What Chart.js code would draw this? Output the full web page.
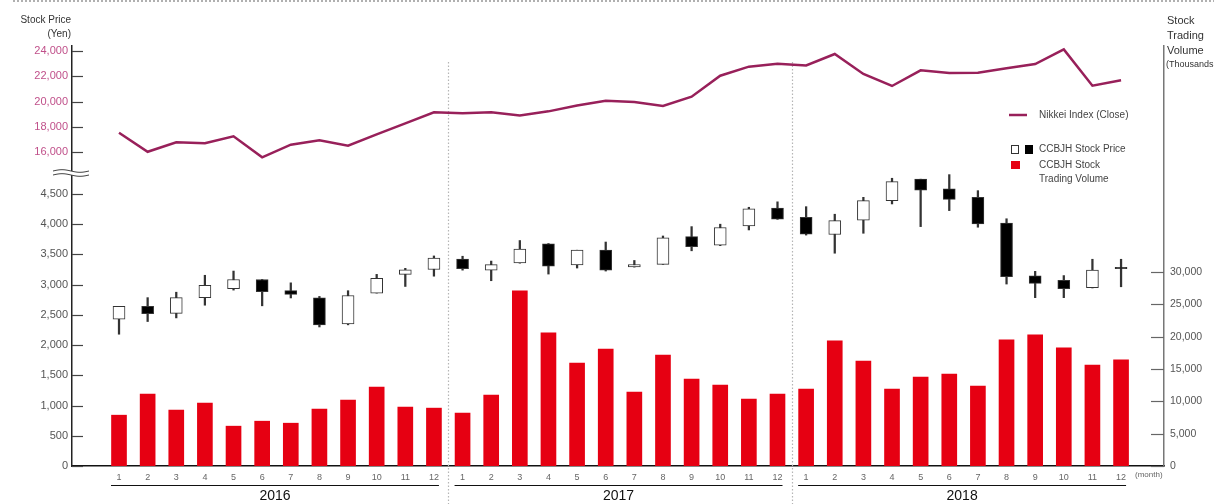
<!DOCTYPE html>
<html lang="en">
<head>
    <meta charset="UTF-8">
    <title>CCBJH Stock Price and Trading Volume</title>
    <script src="https://cdn.jsdelivr.net/npm/chart.js"></script>
    <style>
        body, html {
            margin: 0;
            padding: 0;
            background: #fff;
        }
        .chart-box {
            position: relative;
            width: 1214px;
            height: 504px;
        }
    </style>
</head>
<body>
<div class="chart-box">
    <canvas id="stockChart"></canvas>
</div>

<script>
    // months (2016-01 .. 2018-12)
    const years = ['2016', '2017', '2018'];
    const months = [1, 2, 3, 4, 5, 6, 7, 8, 9, 10, 11, 12];

    // Nikkei index close (yen)
    const nikkei = [
        17530, 16020, 16770, 16690, 17240, 15580, 16580, 16920, 16500, 17400, 18270, 19140,
        19060, 19140, 18900, 19220, 19690, 20060, 19960, 19640, 20380, 22040, 22760, 22990,
        22850, 23760, 22180, 21230, 22470, 22260, 22280, 22630, 22970, 24130, 21250, 21680
    ];

    // CCBJH monthly candles (yen)
    const priceOpen = [
        2430, 2640, 2525, 2785, 2935, 3085, 2900, 2780, 2350, 2860, 3170, 3250,
        3425, 3240, 3360, 3675, 3325, 3570, 3295, 3335, 3795, 3655, 3970, 4265,
        4115, 3830, 4065, 4390, 4745, 4585, 4445, 4020, 3145, 3070, 2950, 3285
    ];
    const priceClose = [
        2640, 2520, 2785, 2990, 3085, 2885, 2840, 2335, 2820, 3105, 3245, 3440,
        3265, 3330, 3590, 3305, 3570, 3240, 3330, 3775, 3630, 3945, 4255, 4085,
        3835, 4060, 4390, 4705, 4565, 4410, 4005, 3130, 3020, 2935, 3240, 3265
    ];
    const priceHigh = [
        2640, 2785, 2875, 3155, 3225, 3085, 3030, 2805, 2900, 3170, 3270, 3475,
        3470, 3390, 3730, 3680, 3570, 3705, 3400, 3805, 3960, 4000, 4280, 4370,
        4290, 4165, 4445, 4760, 4745, 4820, 4555, 4090, 3220, 3150, 3420, 3420
    ];
    const priceLow = [
        2180, 2390, 2450, 2660, 2910, 2650, 2780, 2300, 2335, 2860, 2970, 3140,
        3240, 3065, 3355, 3175, 3275, 3225, 3290, 3335, 3560, 3645, 3905, 4080,
        3820, 3520, 3850, 4335, 3960, 4225, 3950, 3010, 2785, 2785, 2945, 2965
    ];

    // trading volume (thousands of shares)
    const volume = [
        7860, 11120, 8640, 9720, 6160, 6930, 6620, 8790, 10190, 12210, 9100, 8950,
        8170, 10970, 27100, 20590, 15930, 18100, 11430, 17170, 13450, 12520, 10340, 11120,
        11900, 19340, 16240, 11900, 13760, 14220, 12360, 19500, 20270, 18260, 15620, 16400
    ];

    const nikkeiTicks = [16000, 18000, 20000, 22000, 24000];
    const priceTicks = [0, 500, 1000, 1500, 2000, 2500, 3000, 3500, 4000, 4500];
    const volumeTicks = [0, 5000, 10000, 15000, 20000, 25000, 30000];

    const idx = nikkei.map((v, i) => i);
    const FONT = "'Liberation Sans', Arial, sans-serif";
    const NIKKEI_COLOR = '#98205a';
    const RED = '#e60012';

    const toTicks = list => scale => { scale.ticks = list.map(v => ({ value: v })); };

    // ticks pointing into the plot, wavy axis break, separators, legend, titles
    const decor = {
        id: 'decor',
        beforeDatasetsDraw(chart) {
            const { ctx } = chart;
            const x = chart.scales.x;
            ctx.save();
            ctx.strokeStyle = '#b5b5b5';
            ctx.lineWidth = 1.2;
            ctx.setLineDash([1.5, 2]);
            [11.5, 23.5].forEach(v => {
                const px = Math.round(x.getPixelForValue(v)) + 0.5;
                ctx.beginPath();
                ctx.moveTo(px, 62);
                ctx.lineTo(px, 504);
                ctx.stroke();
            });
            ctx.restore();
        },
        afterDraw(chart) {
            const { ctx, chartArea } = chart;
            const s = chart.scales;
            ctx.save();

            // top dotted rule
            ctx.strokeStyle = '#b0b0b0';
            ctx.lineWidth = 2;
            ctx.setLineDash([2, 2]);
            ctx.beginPath();
            ctx.moveTo(13, 1);
            ctx.lineTo(1214, 1);
            ctx.stroke();
            ctx.setLineDash([]);

            // tick marks
            ctx.lineWidth = 1.2;
            [['yNik', '#444'], ['yPrice', '#444']].forEach(([id, col]) => {
                ctx.strokeStyle = col;
                s[id].ticks.forEach(t => {
                    const py = Math.round(s[id].getPixelForValue(t.value)) + 0.5;
                    ctx.beginPath();
                    ctx.moveTo(chartArea.left, py);
                    ctx.lineTo(chartArea.left + 11, py);
                    ctx.stroke();
                });
            });
            ctx.strokeStyle = '#666';
            s.yVol.ticks.forEach(t => {
                const py = Math.round(s.yVol.getPixelForValue(t.value)) + 0.5;
                ctx.beginPath();
                ctx.moveTo(chartArea.right - 13, py);
                ctx.lineTo(chartArea.right, py);
                ctx.stroke();
            });

            // axis break
            const by = s.yPrice.top;
            ctx.fillStyle = '#fff';
            ctx.fillRect(53, by - 2, 36, 4);
            ctx.strokeStyle = '#444';
            ctx.lineWidth = 1;
            [-2, 2].forEach(off => {
                ctx.beginPath();
                for (let px = 53; px <= 89; px++) {
                    const py = by + off + Math.sin((px - 53) / 36 * Math.PI * 2) * -1.3;
                    if (px === 53) ctx.moveTo(px, py); else ctx.lineTo(px, py);
                }
                ctx.stroke();
            });

            // year lines and labels
            ctx.strokeStyle = '#111';
            ctx.lineWidth = 1.2;
            ctx.fillStyle = '#111';
            ctx.font = '14px ' + FONT;
            ctx.textAlign = 'center';
            ctx.textBaseline = 'middle';
            years.forEach((y, k) => {
                const x0 = s.x.getPixelForValue(k * 12) - 8;
                const x1 = s.x.getPixelForValue(k * 12 + 11) + 5;
                ctx.beginPath();
                ctx.moveTo(x0, 485.5);
                ctx.lineTo(x1, 485.5);
                ctx.stroke();
                ctx.fillText(y, (x0 + x1) / 2, 496);
            });

            ctx.fillStyle = '#666';
            ctx.font = '8px ' + FONT;
            ctx.textAlign = 'left';
            ctx.fillText('(month)', 1135, 475);

            // axis titles
            ctx.fillStyle = '#333';
            ctx.font = '10px ' + FONT;
            ctx.textAlign = 'right';
            ctx.fillText('Stock Price', 71, 20);
            ctx.fillText('(Yen)', 71, 34);
            ctx.textAlign = 'left';
            ctx.font = '11px ' + FONT;
            ctx.fillText('Stock', 1167, 21);
            ctx.fillText('Trading', 1167, 36);
            ctx.fillText('Volume', 1167, 51);
            ctx.font = '9px ' + FONT;
            ctx.fillText('(Thousands', 1166, 65);

            // legend
            ctx.font = '10px ' + FONT;
            ctx.fillStyle = '#444';
            ctx.strokeStyle = NIKKEI_COLOR;
            ctx.lineWidth = 2.5;
            ctx.beginPath();
            ctx.moveTo(1009, 115);
            ctx.lineTo(1027, 115);
            ctx.stroke();
            ctx.fillText('Nikkei Index (Close)', 1039, 115);

            ctx.lineWidth = 1;
            ctx.strokeStyle = '#333';
            ctx.strokeRect(1011.5, 145.5, 7, 8);
            ctx.fillStyle = '#000';
            ctx.fillRect(1025, 145, 8, 9);
            ctx.fillStyle = RED;
            ctx.fillRect(1011, 161, 9, 8);
            ctx.fillStyle = '#444';
            ctx.fillText('CCBJH Stock Price', 1039, 149);
            ctx.fillText('CCBJH Stock', 1039, 165);
            ctx.fillText('Trading Volume', 1039, 179);

            ctx.restore();
        }
    };

    const ctx = document.getElementById('stockChart').getContext('2d');
    const stockChart = new Chart(ctx, {
        type: 'bar',
        data: {
            datasets: [
                {
                    type: 'line',
                    label: 'Nikkei Index (Close)',
                    data: idx.map(i => ({ x: i, y: nikkei[i] })),
                    yAxisID: 'yNik',
                    borderColor: NIKKEI_COLOR,
                    borderWidth: 2.5,
                    pointRadius: 0,
                    tension: 0,
                    order: 0
                },
                {
                    label: 'CCBJH Stock Price',
                    data: idx.map(i => ({ x: i, y: [priceOpen[i], priceClose[i]] })),
                    yAxisID: 'yPrice',
                    grouped: false,
                    barThickness: 12,
                    backgroundColor: idx.map(i => priceClose[i] >= priceOpen[i] ? '#fff' : '#000'),
                    borderColor: '#333',
                    borderWidth: 1,
                    borderSkipped: false,
                    order: 1
                },
                {
                    label: 'wick',
                    data: idx.map(i => ({ x: i, y: [priceLow[i], priceHigh[i]] })),
                    yAxisID: 'yPrice',
                    grouped: false,
                    barThickness: 1.6,
                    backgroundColor: '#333',
                    order: 2
                },
                {
                    label: 'CCBJH Stock Trading Volume',
                    data: idx.map(i => ({ x: i, y: volume[i] })),
                    yAxisID: 'yVol',
                    grouped: false,
                    barThickness: 15,
                    backgroundColor: RED,
                    order: 3
                }
            ]
        },
        options: {
            responsive: true,
            maintainAspectRatio: false,
            animation: false,
            layout: { padding: { top: 46, left: 0, right: 0, bottom: 0 } },
            plugins: {
                legend: { display: false },
                tooltip: { enabled: false }
            },
            scales: {
                x: {
                    type: 'linear',
                    offset: false,
                    min: -1.642,
                    max: 36.5,
                    grid: { display: false, drawTicks: false },
                    border: { display: true, color: '#111', width: 1.5 },
                    afterBuildTicks: toTicks(idx),
                    afterFit: scale => { scale.height = 38; },
                    ticks: {
                        autoSkip: false,
                        maxRotation: 0,
                        padding: 6,
                        color: '#666',
                        font: { family: FONT, size: 9 },
                        callback: v => months[v % 12]
                    }
                },
                yPrice: {
                    type: 'linear',
                    position: 'left',
                    stack: 'left',
                    stackWeight: 293,
                    min: 0,
                    max: 4847,
                    grid: { display: false, drawTicks: false },
                    border: { display: true, color: '#222', width: 1.5 },
                    afterBuildTicks: toTicks(priceTicks),
                    afterFit: scale => { scale.width = 72; },
                    ticks: {
                        padding: 4,
                        color: '#555',
                        font: { family: FONT, size: 11 },
                        callback: v => v.toLocaleString('en-US')
                    }
                },
                yNik: {
                    type: 'linear',
                    position: 'left',
                    stack: 'left',
                    stackWeight: 127,
                    min: 14337,
                    max: 24396,
                    grid: { display: false, drawTicks: false },
                    border: { display: true, color: '#222', width: 1.5 },
                    afterBuildTicks: toTicks(nikkeiTicks),
                    afterFit: scale => { scale.width = 72; },
                    ticks: {
                        padding: 4,
                        color: '#c0508a',
                        font: { family: FONT, size: 11 },
                        callback: v => v.toLocaleString('en-US')
                    }
                },
                yVol: {
                    type: 'linear',
                    position: 'right',
                    min: 0,
                    max: 64950,
                    grid: { display: false, drawTicks: false },
                    border: { display: true, color: '#777', width: 1.5 },
                    afterBuildTicks: toTicks(volumeTicks),
                    afterFit: scale => { scale.width = 50; },
                    ticks: {
                        padding: 6,
                        color: '#555',
                        font: { family: FONT, size: 10.5 },
                        callback: v => v.toLocaleString('en-US')
                    }
                }
            }
        },
        plugins: [decor]
    });
</script>
</body>
</html>
